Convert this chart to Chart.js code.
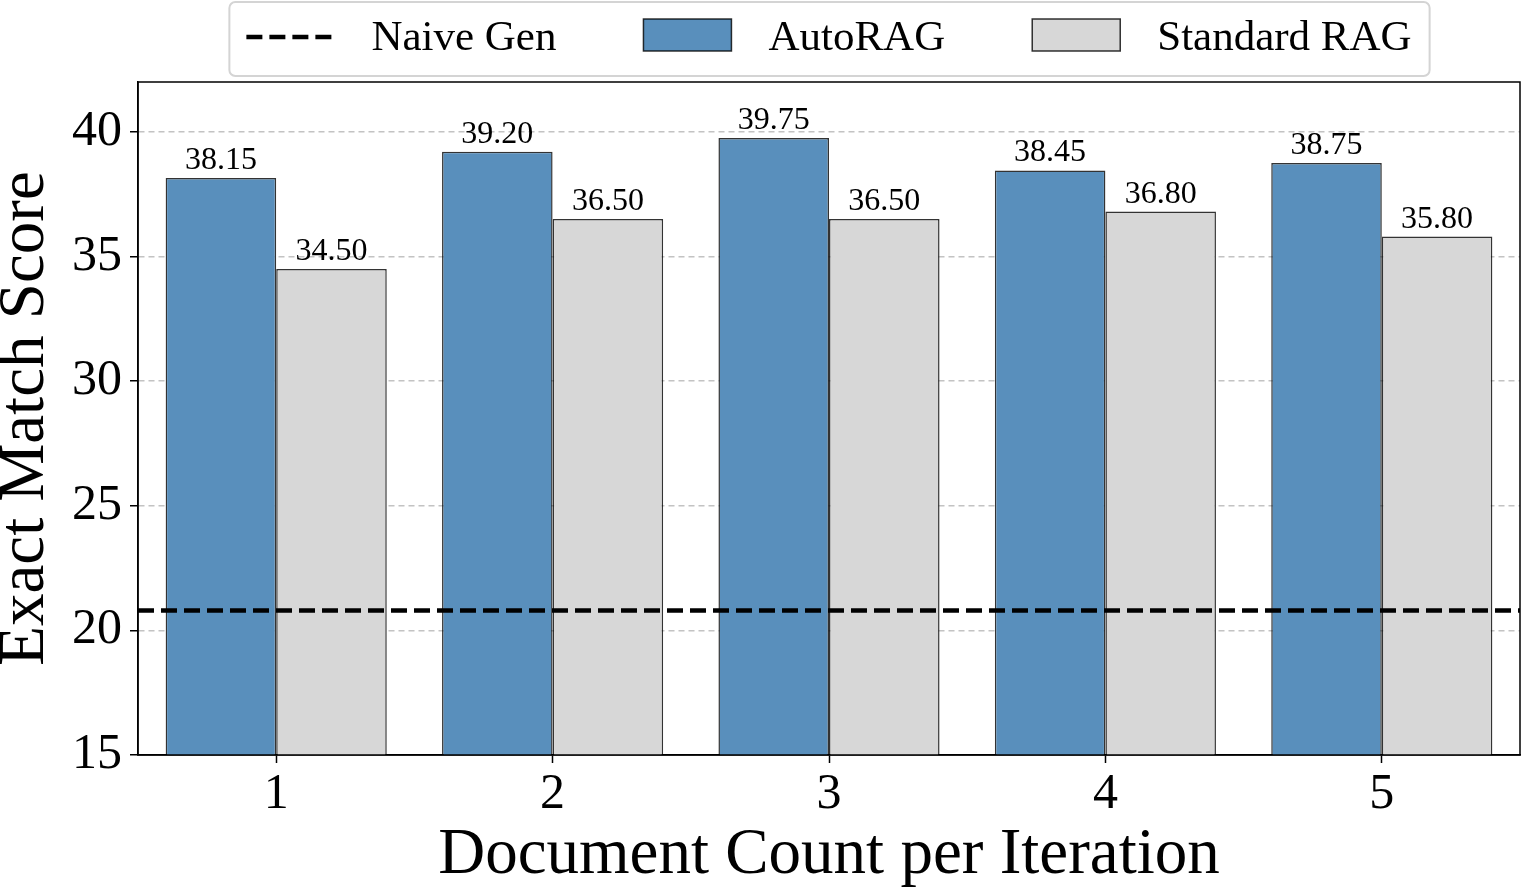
<!DOCTYPE html>
<html><head><meta charset="utf-8">
<script src="https://cdn.jsdelivr.net/npm/chart.js@4.4.1/dist/chart.umd.min.js"></script>
<style>html,body{margin:0;padding:0;background:#fff;} canvas{display:block;}</style>
</head><body>
<canvas id="c" width="1522" height="888"></canvas>
<script>
// ---- data ----
const categories = ['1', '2', '3', '4', '5'];
const autoRAG = [38.15, 39.20, 39.75, 38.45, 38.75];
const standardRAG = [34.50, 36.50, 36.50, 36.80, 35.80];
const naiveGen = 20.8;
const yTicks = [15, 20, 25, 30, 35, 40];
const seriesNames = ['Naive Gen', 'AutoRAG', 'Standard RAG'];
const xTitle = 'Document Count per Iteration';
const yTitle = 'Exact Match Score';

// ---- styles ----
const FONT = "'Liberation Serif', 'Times New Roman', serif";
const BLUE = 'rgb(89,143,188)';
const GRAY = 'rgb(215,215,215)';
const EDGE = 'rgba(0,0,0,0.8)';
const NAIVE_STYLE = {color: '#000', width: 4.5, dash: [16, 7]};

// Naive Gen reference line: horizontal line at the y-scale value naiveGen across the plot
const naiveLine = {
  id: 'naiveLine',
  afterDatasetsDraw(chart) {
    const {ctx, chartArea: a, scales: {y}} = chart;
    const py = y.getPixelForValue(naiveGen);
    ctx.save();
    ctx.beginPath();
    ctx.rect(a.left, a.top, a.right - a.left, a.bottom - a.top);
    ctx.clip();
    ctx.strokeStyle = NAIVE_STYLE.color;
    ctx.lineWidth = NAIVE_STYLE.width;
    ctx.setLineDash(NAIVE_STYLE.dash);
    ctx.beginPath();
    ctx.moveTo(a.left, py);
    ctx.lineTo(a.right, py);
    ctx.stroke();
    ctx.restore();
  }
};

const valueLabels = {
  id: 'valueLabels',
  afterDraw(chart) {
    const ctx = chart.ctx;
    ctx.save();
    ctx.font = `32px ${FONT}`;
    ctx.fillStyle = '#000';
    ctx.textAlign = 'center';
    ctx.textBaseline = 'alphabetic';
    chart.data.datasets.forEach((ds, di) => {
      const meta = chart.getDatasetMeta(di);
      meta.data.forEach((bar, i) => {
        ctx.fillText(Number(ds.data[i]).toFixed(2), bar.x, bar.y - 9);
      });
    });
    ctx.restore();
  }
};

const frame = {
  id: 'frame',
  afterDraw(chart) {
    const {ctx, chartArea: a} = chart;
    ctx.save();
    ctx.strokeStyle = '#000';
    ctx.lineWidth = 1.5;
    ctx.strokeRect(a.left, a.top, a.right - a.left, a.bottom - a.top);
    ctx.restore();
  }
};

const customLegend = {
  id: 'customLegend',
  afterDraw(chart) {
    const {ctx, chartArea: a} = chart;
    ctx.save();
    ctx.font = `43px ${FONT}`;
    const items = [
      {label: seriesNames[0], line: true},
      ...chart.data.datasets.map(d => ({label: d.label, fill: d.backgroundColor, stroke: d.borderColor}))
    ];
    const marker = 88, gapMT = 37, gapItem = 87;
    const widths = items.map(it => ctx.measureText(it.label).width);
    const total = items.length * (marker + gapMT) + widths.reduce((s, w) => s + w, 0) + (items.length - 1) * gapItem;
    let x = (a.left + a.right) / 2 - total / 2;
    ctx.beginPath();
    ctx.roundRect(x - 17, 2, total + 35, 74, 6);
    ctx.fillStyle = '#fff';
    ctx.fill();
    ctx.strokeStyle = '#d4d4d4';
    ctx.lineWidth = 2;
    ctx.stroke();
    items.forEach((it, i) => {
      if (it.line) {
        ctx.save();
        ctx.setLineDash(NAIVE_STYLE.dash);
        ctx.strokeStyle = NAIVE_STYLE.color;
        ctx.lineWidth = NAIVE_STYLE.width;
        ctx.beginPath();
        ctx.moveTo(x, 37);
        ctx.lineTo(x + 86, 37);
        ctx.stroke();
        ctx.restore();
      } else {
        ctx.fillStyle = it.fill;
        ctx.fillRect(x, 19, marker, 32);
        ctx.strokeStyle = it.stroke;
        ctx.lineWidth = 1.5;
        ctx.strokeRect(x, 19, marker, 32);
      }
      ctx.fillStyle = '#000';
      ctx.textAlign = 'left';
      ctx.textBaseline = 'alphabetic';
      ctx.fillText(it.label, x + marker + gapMT, 50);
      x += marker + gapMT + widths[i] + gapItem;
    });
    ctx.restore();
  }
};

new Chart(document.getElementById('c'), {
  type: 'bar',
  data: {
    labels: categories,
    datasets: [
      {
        label: seriesNames[1], data: autoRAG,
        backgroundColor: BLUE, borderColor: EDGE, borderWidth: 1.5,
        categoryPercentage: 0.8, barPercentage: 1.0
      },
      {
        label: seriesNames[2], data: standardRAG,
        backgroundColor: GRAY, borderColor: EDGE, borderWidth: 1.5,
        categoryPercentage: 0.8, barPercentage: 1.0
      }
    ]
  },
  options: {
    responsive: false,
    devicePixelRatio: 1,
    animation: false,
    layout: {padding: {top: 82, right: 2, left: 0, bottom: 0}},
    plugins: {legend: {display: false}, tooltip: {enabled: false}},
    scales: {
      x: {
        type: 'category', offset: true,
        afterFit(s) { s.height = 133; },
        ticks: {font: {family: FONT, size: 50}, color: '#000', padding: 2},
        grid: {display: true, drawOnChartArea: false, offset: false, tickColor: '#000', tickLength: 8, tickWidth: 1.5, color: '#000'},
        border: {display: true, color: '#000', width: 1.5},
        title: {display: true, text: xTitle, font: {family: FONT, size: 65, lineHeight: 1}, color: '#000', padding: 0}
      },
      y: {
        min: 15, max: 42, z: 1,
        afterFit(s) { s.width = 138; },
        afterBuildTicks(s) { s.ticks = yTicks.map(v => ({value: v})); },
        ticks: {font: {family: FONT, size: 50}, color: '#000', padding: 8},
        grid: {color: 'rgba(170,170,170,0.7)', lineWidth: 1.5, tickColor: '#000', tickLength: 8, tickWidth: 1.5, tickBorderDash: [1, 0]},
        border: {display: true, color: '#000', width: 1.5, dash: [6, 4]},
        title: {display: true, text: yTitle, font: {family: FONT, size: 65, lineHeight: 0.8}, color: '#000', padding: 0}
      }
    }
  },
  plugins: [valueLabels, frame, naiveLine, customLegend]
});
</script>
</body></html>
